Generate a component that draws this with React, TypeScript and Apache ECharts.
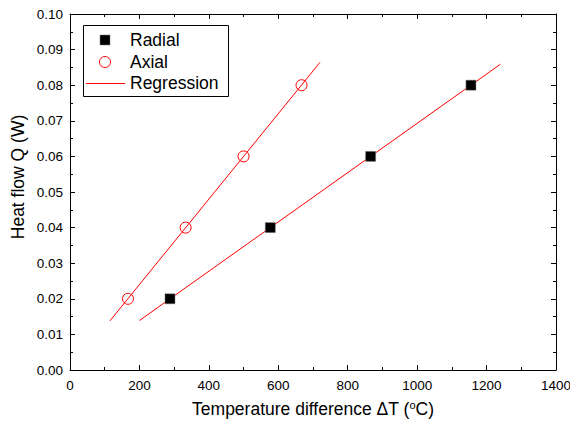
import React, { useEffect, useRef } from "react";
import * as echarts from "echarts";

const radialX = [288, 577, 866, 1155];
const radialY = [0.02, 0.04, 0.06, 0.08];
const axialX = [167, 333, 500, 667];
const axialY = [0.02, 0.04, 0.06, 0.08];
const radialRegX = [200, 1240];
const radialRegY = [0.0139, 0.0859];
const axialRegX = [115, 720];
const axialRegY = [0.0138, 0.0864];
const legendNames = ["Radial", "Axial", "Regression"];

const FONT = "'Liberation Sans', Arial, sans-serif";

const zip = (xs: number[], ys: number[]) => xs.map((x, i) => [x, ys[i]]);

export default function App() {
  const ref = useRef<HTMLDivElement>(null);
  useEffect(() => {
    if (!ref.current) return;
    const chart = echarts.init(ref.current, undefined, { renderer: "svg" });
    const axisCommon = {
      axisLine: { show: true, onZero: false, lineStyle: { color: "#000", width: 1 } },
      axisTick: { show: true, inside: true, length: 5, lineStyle: { color: "#000" } },
      minorTick: { show: true, splitNumber: 2, length: 3, lineStyle: { color: "#000" } },
      splitLine: { show: false },
    };
    const legendX = 83;
    const legendY = 25;
    const rowY = [40, 62, 83];
    chart.setOption({
      animation: false,
      backgroundColor: "#fff",
      textStyle: { fontFamily: FONT },
      grid: { left: 70, top: 14, right: 14, bottom: 55, containLabel: false, outerBoundsMode: "none" },
      graphic: [
        {
          type: "rect",
          shape: { x: legendX + 0.5, y: legendY + 0.5, width: 145, height: 71 },
          style: { fill: "#fff", stroke: "#000", lineWidth: 1 },
          z: 10,
        },
        {
          type: "rect",
          shape: { x: 100, y: rowY[0] - 5, width: 10, height: 10 },
          style: { fill: "#000", stroke: "#777", lineWidth: 0.5 },
          z: 11,
        },
        {
          type: "circle",
          shape: { cx: 105, cy: rowY[1], r: 5.5 },
          style: { fill: "none", stroke: "#ff0000", lineWidth: 1 },
          z: 11,
        },
        {
          type: "line",
          shape: { x1: 86, y1: rowY[2] + 0.5, x2: 125, y2: rowY[2] + 0.5 },
          style: { stroke: "#ff0000", lineWidth: 1 },
          z: 11,
        },
        ...legendNames.map((n, i) => ({
          type: "text",
          x: 130,
          y: rowY[i],
          style: {
            text: n,
            fontSize: 17.5,
            fontFamily: FONT,
            fill: "#000",
            verticalAlign: "middle",
            align: "left",
          },
          z: 11,
        })),
        {
          type: "text",
          x: 18,
          y: 177,
          rotation: Math.PI / 2,
          style: {
            text: "Heat flow Q (W)",
            fontSize: 17.5,
            fontFamily: FONT,
            fill: "#000",
            align: "center",
            verticalAlign: "middle",
          },
        },
      ],
      xAxis: [
        {
          type: "value",
          position: "bottom",
          min: 0,
          max: 1400,
          interval: 200,
          ...axisCommon,
          axisLabel: {
            color: "#000",
            fontSize: 13.5,
            margin: 8,
            fontFamily: FONT,
            formatter: (v: number) => String(v),
          },
          name: "{a|Temperature difference ΔT (}{s|o}{a|C)}",
          nameLocation: "middle",
          nameGap: 29,
          nameTextStyle: {
            rich: {
              a: { fontSize: 17.5, color: "#000", fontFamily: FONT },
              s: { fontSize: 11, color: "#000", fontFamily: FONT, padding: [0, 0, 9, 0] },
            },
          },
        },
        {
          type: "value",
          position: "top",
          min: 0,
          max: 1400,
          interval: 200,
          ...axisCommon,
          axisLabel: { show: false },
        },
      ],
      yAxis: [
        {
          type: "value",
          position: "left",
          min: 0,
          max: 0.1,
          interval: 0.01,
          ...axisCommon,
          axisLabel: {
            color: "#000",
            fontSize: 13.5,
            margin: 7,
            fontFamily: FONT,
            formatter: (v: number) => v.toFixed(2),
          },
        },
        {
          type: "value",
          position: "right",
          min: 0,
          max: 0.1,
          interval: 0.01,
          ...axisCommon,
          axisLabel: { show: false },
        },
      ],
      series: [
        {
          name: "Regression",
          type: "line",
          data: zip(radialRegX, radialRegY),
          symbol: "none",
          lineStyle: { color: "#ff0000", width: 1 },
          z: 2,
        },
        {
          name: "Regression",
          type: "line",
          data: zip(axialRegX, axialRegY),
          symbol: "none",
          lineStyle: { color: "#ff0000", width: 1 },
          z: 2,
        },
        {
          name: "Radial",
          type: "scatter",
          data: zip(radialX, radialY),
          symbol: "rect",
          symbolSize: 10,
          itemStyle: { color: "#000", borderColor: "#777", borderWidth: 0.5, opacity: 1 },
          z: 3,
        },
        {
          name: "Axial",
          type: "scatter",
          data: zip(axialX, axialY),
          symbol: "circle",
          symbolSize: 11,
          itemStyle: { color: "rgba(0,0,0,0)", borderColor: "#ff0000", borderWidth: 1, opacity: 1 },
          z: 3,
        },
      ],
    });
    return () => chart.dispose();
  }, []);
  return <div ref={ref} style={{ width: 570, height: 425, position: "absolute", left: 0, top: 0 }} />;
}
